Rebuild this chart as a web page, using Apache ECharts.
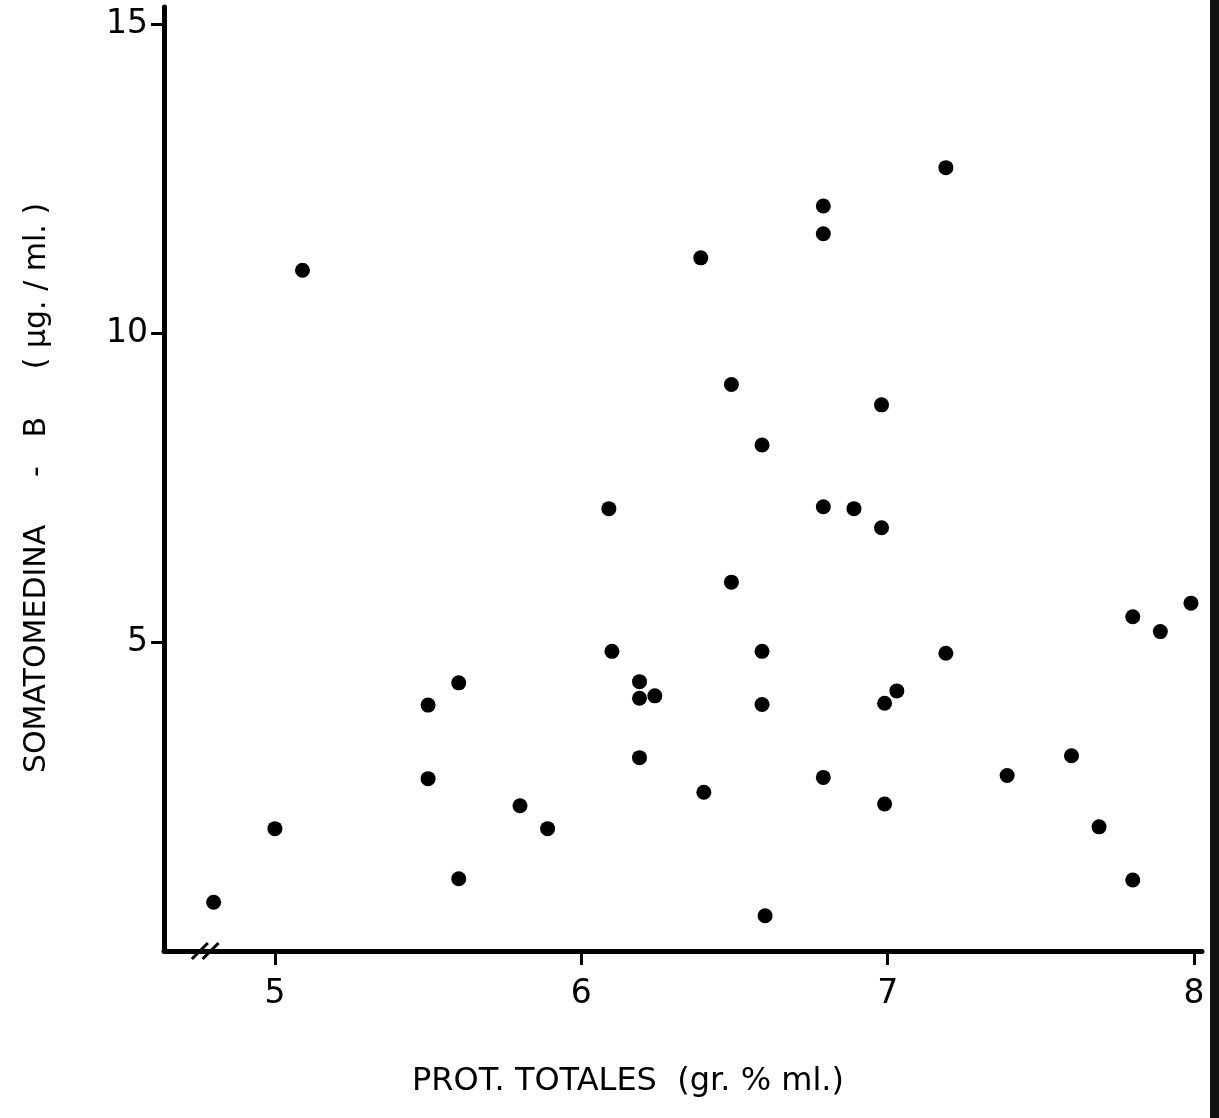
<!DOCTYPE html>
<html>
<head>
<meta charset="utf-8">
<script src="https://cdn.jsdelivr.net/npm/echarts@6/dist/echarts.min.js"></script>
<style>
  html, body { margin: 0; padding: 0; background: #fff; }
  #chart { width: 1219px; height: 1118px; }
</style>
</head>
<body>
<div id="chart"></div>
<script>
// Total serum protein (gr. % ml.) against somatomedin-B (µg/ml), one value per subject
const protTotales = [
  4.80, 5.00, 5.09, 5.50, 5.50, 5.60, 5.60, 5.80, 5.89, 6.09,
  6.10, 6.19, 6.19, 6.24, 6.19, 6.39, 6.40, 6.49, 6.49, 6.59,
  6.59, 6.59, 6.60, 6.79, 6.79, 6.79, 6.79, 6.89, 6.98, 6.98,
  6.99, 7.03, 6.99, 7.19, 7.19, 7.39, 7.60, 7.69, 7.80, 7.80,
  7.89, 7.99
];
const somatomedinaB = [
  0.79, 1.98, 11.02, 3.98, 2.79, 4.34, 1.17, 2.35, 1.98, 7.16,
  4.85, 4.36, 4.09, 4.13, 3.13, 11.22, 2.57, 9.17, 5.97, 8.19,
  4.85, 3.99, 0.57, 12.06, 11.61, 7.19, 2.81, 7.16, 8.84, 6.85,
  4.01, 4.21, 2.38, 12.68, 4.82, 2.84, 3.16, 2.01, 5.41, 1.15,
  5.17, 5.63
];
const xTicks = [5, 6, 7, 8];
const yTicks = [5, 10, 15];
const xTitle = 'PROT. TOTALES  (gr. % ml.)';
const yTitle = 'SOMATOMEDINA     -   B     ( µg. / ml. )';

const points = protTotales.map((x, i) => [x, somatomedinaB[i]]);

const chart = echarts.init(document.getElementById('chart'), null, { renderer: 'canvas' });
const ink = '#000';
const tickFont = { fontFamily: 'DejaVu Sans', fontSize: 33, color: ink };

chart.setOption({
  animation: false,
  backgroundColor: '#fff',
  grid: { left: 164, right: 17, top: 7, bottom: 167, containLabel: false, outerBoundsMode: 'none' },
  xAxis: {
    type: 'value', min: 4.638, max: 8.026,
    splitLine: { show: false },
    axisLine: { onZero: false, lineStyle: { color: ink, width: 5 } },
    axisTick: { customValues: xTicks, length: 14, lineStyle: { color: ink, width: 3 } },
    axisLabel: Object.assign({ customValues: xTicks, margin: 27 }, tickFont)
  },
  yAxis: {
    type: 'value', min: 0, max: 15.28,
    splitLine: { show: false },
    axisLine: { onZero: false, lineStyle: { color: ink, width: 5 } },
    axisTick: { customValues: yTicks, length: 13, lineStyle: { color: ink, width: 3 } },
    axisLabel: Object.assign({ customValues: yTicks, margin: 16 }, tickFont)
  },
  series: [{
    type: 'scatter',
    data: points,
    symbol: 'circle',
    symbolSize: 15,
    itemStyle: { color: ink, opacity: 1 }
  }]
});

// axis break "//" near the origin, placed through the axis scale
const breakAt = [4.755, 4.79];
const slashes = breakAt.map(v => {
  const p = chart.convertToPixel({ gridIndex: 0 }, [v, 0]);
  return {
    type: 'line',
    shape: { x1: p[0] - 8, y1: p[1] + 8, x2: p[0] + 8, y2: p[1] - 8 },
    style: { stroke: ink, lineWidth: 3 }
  };
});

chart.setOption({
  graphic: slashes.concat([
    {
      type: 'text', x: 628, y: 1082,
      style: { text: xTitle, font: '32px "DejaVu Sans"', fill: ink, align: 'center', verticalAlign: 'middle' }
    },
    {
      type: 'text', x: 37, y: 488, rotation: Math.PI / 2,
      style: { text: yTitle, font: '30px "DejaVu Sans"', fill: ink, align: 'center', verticalAlign: 'middle' }
    },
    // dark page edge on the right
    { type: 'rect', shape: { x: 1210, y: 0, width: 9, height: 1118 }, style: { fill: '#111' } }
  ])
});
</script>
</body>
</html>
